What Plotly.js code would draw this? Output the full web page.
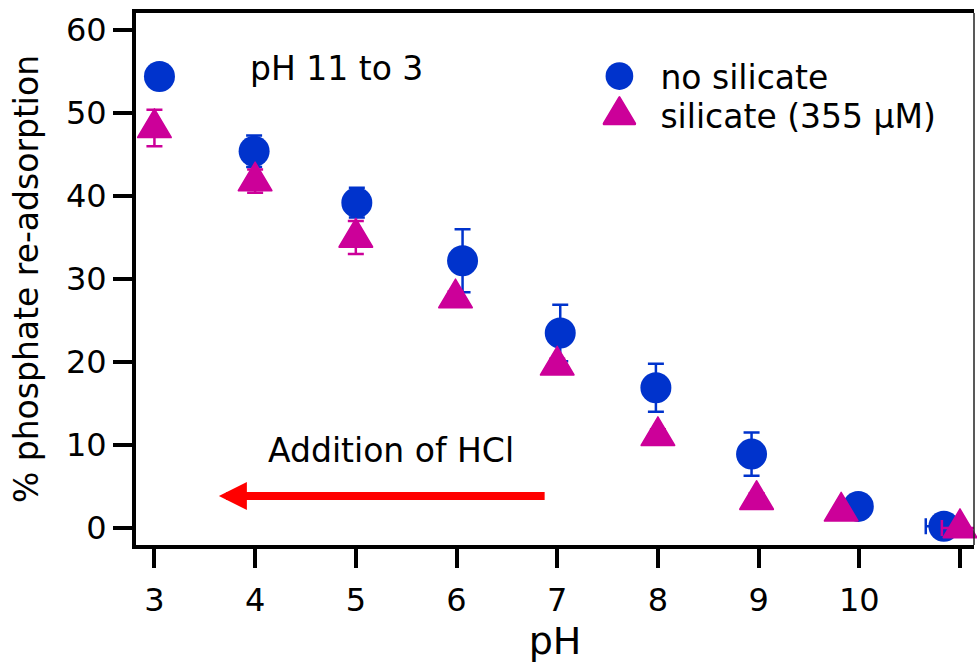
<!DOCTYPE html>
<html>
<head>
<meta charset="utf-8">
<script src="https://cdn.plot.ly/plotly-3.0.1.min.js"></script>
<style>
  html, body { margin: 0; padding: 0; background: #fff; }
  #chart { width: 977px; height: 666px; }
  #chart path.point, #chart path.scatterpts { stroke-linejoin: round; }
</style>
</head>
<body>
<div id="chart"></div>
<script>
// ---- data ----
const phNoSil   = [3.05, 3.99, 5.01, 6.06, 7.03, 7.98, 8.93, 9.99, 10.84];
const readsNoSil = [54.4, 45.4, 39.2, 32.2, 23.5, 16.9, 8.9, 2.6, 0.2];
const errNoSil  = [1.0, 1.9, 1.8, 3.8, 3.4, 2.9, 2.6, 1.0, 1.0];
const xErrNoSil = [0, 0, 0, 0, 0, 0, 0, 0, 0.18];

const phSil     = [3.0, 4.0, 5.0, 5.99, 7.0, 8.0, 8.98, 9.82, 11.0];
const readsSil  = [48.2, 41.8, 35.0, 27.7, 19.6, 11.1, 3.4, 2.0, 0.0];
const errSil    = [2.2, 1.4, 2.0, 0.8, 0.8, 0.8, 0.8, 0.5, 0.5];
const xErrSil   = [0, 0, 0, 0, 0, 0, 0, 0, 0.18];

const seriesNames = ['no silicate', 'silicate (355 µM)'];
const xTicks = [3, 4, 5, 6, 7, 8, 9, 10, 11];
const yTicks = [0, 10, 20, 30, 40, 50, 60];

const BLUE = '#0033cc';
const MAGENTA = '#cc0099';
const FONT = 'DejaVu Sans, Arial, sans-serif';

const data = [
  {
    type: 'scatter', mode: 'markers', name: seriesNames[0],
    x: phNoSil, y: readsNoSil, cliponaxis: false,
    marker: { symbol: 'circle', size: 31, color: BLUE, line: { width: 0 } },
    error_y: { type: 'data', array: errNoSil, visible: true, color: BLUE, thickness: 2.5, width: 8 },
    error_x: { type: 'data', array: xErrNoSil, visible: true, color: BLUE, thickness: 2.5, width: 8 }
  },
  {
    type: 'scatter', mode: 'markers', name: seriesNames[1],
    x: phSil, y: readsSil, cliponaxis: false,
    marker: { symbol: 'triangle-up', size: 29, color: MAGENTA, line: { width: 1.5, color: MAGENTA } },
    error_y: { type: 'data', array: errSil, visible: true, color: MAGENTA, thickness: 2.5, width: 8 },
    error_x: { type: 'data', array: xErrSil, visible: true, color: MAGENTA, thickness: 2.5, width: 8 }
  }
];

const layout = {
  width: 977, height: 666,
  margin: { l: 136, r: 3, t: 13, b: 121, pad: 0 },
  paper_bgcolor: '#ffffff', plot_bgcolor: '#ffffff',
  font: { family: FONT, size: 32, color: '#000' },
  showlegend: true,
  legend: {
    x: 0.553, y: 0.934, xanchor: 'left', yanchor: 'top',
    bgcolor: 'rgba(0,0,0,0)', borderwidth: 0,
    font: { family: FONT, size: 33, color: '#000' },
    tracegroupgap: 0
  },
  xaxis: {
    range: [2.817, 11.139], tickmode: 'array', tickvals: xTicks,
    ticktext: xTicks.map(String),
    ticks: 'outside', ticklen: 19, tickwidth: 4, tickcolor: '#000',
    showline: true, linewidth: 4, linecolor: '#000', mirror: true,
    showgrid: false, zeroline: false, ticklabelstandoff: 5,
    tickfont: { family: FONT, size: 32, color: '#000' },
    title: { text: 'pH', font: { family: FONT, size: 38, color: '#000' }, standoff: 4 }
  },
  yaxis: {
    range: [-2.05, 62.05], tickmode: 'array', tickvals: yTicks,
    ticktext: yTicks.map(String),
    ticks: 'outside', ticklen: 19, tickwidth: 4, tickcolor: '#000',
    showline: true, linewidth: 4, linecolor: '#000', mirror: false,
    showgrid: false, zeroline: false,
    tickfont: { family: FONT, size: 32, color: '#000' },
    title: { text: '% phosphate re-adsorption', font: { family: FONT, size: 33, color: '#000' }, standoff: 18 }
  },
  shapes: [
    { type: 'line', xref: 'paper', yref: 'paper', x0: 1, x1: 1, y0: 0, y1: 1,
      line: { color: '#222', width: 1.5 } }
  ],
  annotations: [
    { xref: 'x', yref: 'y', x: 4.81, y: 55.4, text: 'pH 11 to 3', showarrow: false,
      font: { family: FONT, size: 33, color: '#000' } },
    { xref: 'x', yref: 'y', x: 5.35, y: 9.3, text: 'Addition of HCl', showarrow: false,
      font: { family: FONT, size: 33, color: '#000' } },
    { xref: 'x', yref: 'y', axref: 'x', ayref: 'y', x: 3.64, y: 3.86, ax: 6.89, ay: 3.86,
      text: '', showarrow: true, arrowhead: 2, arrowsize: 0.7, arrowwidth: 8,
      arrowcolor: '#ff0000', standoff: 0, startstandoff: 0 }
  ]
};

const gd = document.getElementById('chart');
Plotly.newPlot(gd, data, layout, { staticPlot: true, displayModeBar: false }).then(function () {
  // make plotted triangles closer to equilateral
  const traces = gd.querySelectorAll('.scatterlayer .trace');
  if (traces[1]) {
    traces[1].querySelectorAll('path.point').forEach(function (p) {
      const t = p.getAttribute('transform') || '';
      p.setAttribute('transform', t + ' scale(1,1.3)');
    });
  }
  // legend: no clipping, larger symbols, wider symbol-text gap, tighter rows
  const legend = gd.querySelector('.legend');
  if (legend) {
    legend.removeAttribute('clip-path');
    legend.querySelectorAll('[clip-path]').forEach(function (e) { e.removeAttribute('clip-path'); });
  }
  const items = gd.querySelectorAll('.legend .traces');
  let firstY = null;
  items.forEach(function (g, i) {
    const p = g.querySelector('path.scatterpts');
    if (p) {
      const bb = p.getBBox();
      if (bb.width) {
        const kx = (i === 0 ? 27.7 : 31) / bb.width;
        const ky = i === 0 ? kx : 26 / bb.height;
        p.setAttribute('transform', 'translate(20,0) scale(' + kx + ',' + ky + ')');
      }
    }
    const txt = g.querySelector('text.legendtext');
    if (txt) txt.setAttribute('x', 61);
    const tr = g.getAttribute('transform') || '';
    const m = tr.match(/translate\(\s*([-\d.e]+)[ ,]+([-\d.e]+)\s*\)/);
    if (m) {
      const tx = parseFloat(m[1]), ty = parseFloat(m[2]);
      if (firstY === null) firstY = ty;
      else g.setAttribute('transform', 'translate(' + tx + ',' + (firstY + 39 * i) + ')');
    }
  });
});
</script>
</body>
</html>
